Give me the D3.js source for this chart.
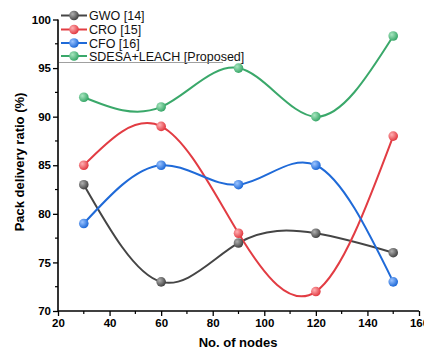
<!DOCTYPE html>
<html><head><meta charset="utf-8">
<script src="https://cdn.jsdelivr.net/npm/d3@7"></script>
<style>html,body{margin:0;padding:0;background:#fff;}svg{display:block;}</style>
</head><body>
<svg id="c" width="424" height="351"></svg>
<script>
const nodes = [30, 60, 90, 120, 150];
const gwo = [83, 73, 77, 78, 76];
const cro = [85, 89, 78, 72, 88];
const cfo = [79, 85, 83, 85, 73];
const sdesa = [92, 91, 95, 90, 98.3];
const seriesNames = ["GWO [14]", "CRO [15]", "CFO [16]", "SDESA+LEACH [Proposed]"];
const xTicks = [20, 40, 60, 80, 100, 120, 140, 160];
const yTicks = [70, 75, 80, 85, 90, 95, 100];

const colors = ["#454545", "#e23c43", "#1f6ad8", "#3aa86a"];
const light = ["#b0b0b0", "#ffb0b3", "#9cc4ff", "#a8e6c0"];
const series = [gwo, cro, cfo, sdesa];

const svg = d3.select("#c");
const x = d3.scaleLinear().domain([20, 160]).range([58, 419]);
const y = d3.scaleLinear().domain([70, 100]).range([311, 19.5]);

const defs = svg.append("defs");
colors.forEach((c, i) => {
  const g = defs.append("radialGradient").attr("id", "g" + i)
    .attr("cx", "35%").attr("cy", "35%").attr("r", "65%");
  g.append("stop").attr("offset", "0%").attr("stop-color", light[i]);
  g.append("stop").attr("offset", "100%").attr("stop-color", c);
});

// axes
const xAxis = d3.axisBottom(x).tickValues(xTicks).tickSize(5).tickSizeInner(5).tickPadding(3).tickFormat(d3.format("d"));
const yAxis = d3.axisLeft(y).tickValues(yTicks).tickSize(5).tickPadding(2).tickFormat(d3.format("d"));
const gx = svg.append("g").attr("transform", "translate(0,311)").call(xAxis);
const gy = svg.append("g").attr("transform", "translate(58,0)").call(yAxis);
[gx, gy].forEach(g => {
  g.select(".domain").attr("stroke", "#000").attr("stroke-width", 1.6);
  g.selectAll(".tick line").attr("stroke", "#000").attr("stroke-width", 1.3);
  g.selectAll(".tick text").attr("fill", "#000").style("font-family", "Liberation Sans, Arial, sans-serif").style("font-weight", "bold").style("font-size", "11.5px");
});
gx.select(".domain").attr("d", "M58,0H419");
gy.select(".domain").attr("d", "M0,311V19.5");

// minor ticks
const xMinor = d3.range(30, 160, 20);
svg.append("g").selectAll("line").data(xMinor).join("line")
  .attr("x1", d => x(d)).attr("x2", d => x(d)).attr("y1", 311).attr("y2", 314)
  .attr("stroke", "#000").attr("stroke-width", 1.2);
const yMinor = d3.range(72.5, 100, 5);
svg.append("g").selectAll("line").data(yMinor).join("line")
  .attr("x1", 55).attr("x2", 58).attr("y1", d => y(d)).attr("y2", d => y(d))
  .attr("stroke", "#000").attr("stroke-width", 1.2);

// axis titles
svg.append("text").attr("x", 238).attr("y", 347).attr("text-anchor", "middle")
  .style("font-family", "Liberation Sans, Arial, sans-serif").style("font-weight", "bold").style("font-size", "13px")
  .text("No. of nodes");
svg.append("text").attr("transform", "translate(24,162) rotate(-90)").attr("text-anchor", "middle")
  .style("font-family", "Liberation Sans, Arial, sans-serif").style("font-weight", "bold").style("font-size", "13px")
  .text("Pack delivery ratio (%)");

// lines
const line = d3.line().x((d, i) => x(nodes[i])).y(d => y(d)).curve(d3.curveNatural);
series.forEach((s, i) => {
  svg.append("path").datum(s).attr("d", line).attr("fill", "none")
    .attr("stroke", colors[i]).attr("stroke-width", 2);
});
series.forEach((s, i) => {
  svg.append("g").selectAll("circle").data(s).join("circle")
    .attr("cx", (d, j) => x(nodes[j])).attr("cy", d => y(d)).attr("r", 4.8)
    .attr("fill", `url(#g${i})`);
});

// legend
const legY = [15.5, 29.5, 43, 56];
const lg = svg.append("g");
seriesNames.forEach((n, i) => {
  lg.append("line").attr("x1", 61).attr("x2", 87).attr("y1", legY[i]).attr("y2", legY[i])
    .attr("stroke", colors[i]).attr("stroke-width", 2);
  lg.append("circle").attr("cx", 74).attr("cy", legY[i]).attr("r", 4.8).attr("fill", `url(#g${i})`);
  lg.append("text").attr("x", 89).attr("y", legY[i] + 4.5)
    .style("font-family", "Liberation Sans, Arial, sans-serif").style("font-size", "12.5px").attr("fill", "#111")
    .text(n);
});
lg.append("line").attr("x1", 59).attr("x2", 223).attr("y1", 62.5).attr("y2", 62.5)
  .attr("stroke", "#888").attr("stroke-width", 0.8);
</script>
</body></html>
